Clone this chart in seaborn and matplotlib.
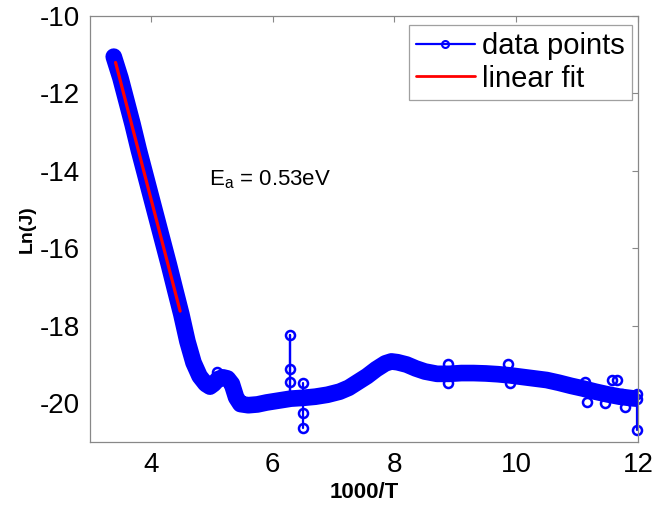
import matplotlib
matplotlib.use("Agg")
import matplotlib.pyplot as plt
from matplotlib.lines import Line2D
import seaborn as sns
import pandas as pd

# ---- data ----
# centre of the dense band of measured points
x_band = [3.39, 3.50, 3.60, 3.70, 3.80, 3.90, 4.00, 4.10, 4.20, 4.30, 4.40, 4.50,
          4.60, 4.70, 4.80, 4.90, 4.97, 5.03, 5.10, 5.18, 5.26, 5.33, 5.40, 5.47,
          5.60, 5.75, 5.90, 6.10, 6.30, 6.50, 6.70, 6.90, 7.10, 7.25, 7.40, 7.55,
          7.70, 7.85, 7.95, 8.05, 8.20, 8.35, 8.50, 8.70, 8.90, 9.10, 9.30, 9.50,
          9.70, 9.90, 10.10, 10.30, 10.50, 10.70, 10.90, 11.10, 11.30, 11.50,
          11.70, 11.90, 11.98]
y_band = [-11.05, -11.60, -12.20, -12.80, -13.45, -14.05, -14.65, -15.25, -15.85,
          -16.45, -17.08, -17.70, -18.40, -18.95, -19.30, -19.50, -19.57, -19.50,
          -19.38, -19.33, -19.36, -19.50, -19.85, -20.02, -20.05, -20.03, -19.98,
          -19.93, -19.88, -19.86, -19.83, -19.78, -19.70, -19.60, -19.45, -19.30,
          -19.12, -18.97, -18.92, -18.94, -19.00, -19.10, -19.18, -19.24, -19.24,
          -19.22, -19.22, -19.23, -19.25, -19.28, -19.32, -19.36, -19.40, -19.47,
          -19.55, -19.62, -19.70, -19.77, -19.83, -19.87, -19.88]

# scattered points that stand out of the band (grouped by the run they belong to)
x_out = [6.28, 6.28, 6.28, 6.28, 6.28,
         6.50, 6.50, 6.50, 6.50,
         11.99, 11.99, 11.99,
         5.09, 8.88, 8.88, 9.87, 9.90, 11.13, 11.16, 11.46, 11.57, 11.65, 11.73, 11.78]
y_out = [-19.88, -19.45, -19.12, -18.23, -19.88,
         -19.47, -19.86, -20.24, -20.63,
         -19.88, -19.75, -20.68,
         -19.19, -18.99, -19.47, -18.99, -19.47, -19.45, -19.97, -19.99, -19.39,
         -19.39, -19.75, -20.10]
run_out = [0, 0, 0, 0, 0,
           1, 1, 1, 1,
           2, 2, 2,
           3, 4, 5, 6, 7, 8, 9, 10, 11, 12, 13, 14]

# linear fit over the high-temperature part
x_fit = [3.42, 4.48]
y_fit = [-11.20, -17.62]

x_ticks = [4, 6, 8, 10, 12]
y_ticks = [-20, -18, -16, -14, -12, -10]

# ---- style ----
sns.set_theme(style="white")
plt.rcParams["font.family"] = ["Liberation Sans", "DejaVu Sans"]
plt.rcParams["axes.unicode_minus"] = False
plt.rcParams["text.color"] = "black"
plt.rcParams["axes.labelcolor"] = "black"
plt.rcParams["mathtext.fontset"] = "custom"
plt.rcParams["mathtext.rm"] = "Liberation Sans"
plt.rcParams["mathtext.it"] = "Liberation Sans:italic"
plt.rcParams["mathtext.bf"] = "Liberation Sans:bold"

fig = plt.figure(figsize=(6.56, 5.08), dpi=100)
ax = fig.add_axes([90 / 656, 66 / 508, 548 / 656, 426 / 508])

blue = "#0000ff"
red = "#ff0000"

df_band = pd.DataFrame({"x": x_band, "y": y_band})
sns.lineplot(data=df_band, x="x", y="y", sort=False, estimator=None, color=blue,
             lw=12, solid_capstyle="round", solid_joinstyle="round",
             legend=False, ax=ax)

df_out = pd.DataFrame({"x": x_out, "y": y_out, "run": run_out})
sns.lineplot(data=df_out, x="x", y="y", units="run", sort=False, estimator=None,
             color=blue, lw=1.6, marker="o", markersize=6.5, markerfacecolor="none",
             markeredgecolor=blue, markeredgewidth=1.8, legend=False, ax=ax,
             clip_on=False)

df_fit = pd.DataFrame({"x": x_fit, "y": y_fit})
sns.lineplot(data=df_fit, x="x", y="y", color=red, lw=2.3, legend=False, ax=ax)

ax.set_xlim(3, 12)
ax.set_ylim(-21, -10)
ax.set_xticks(x_ticks)
ax.set_yticks(y_ticks)
ax.tick_params(direction="in", length=4, width=0.8, color="#888888",
               top=True, right=True, labelsize=20, pad=7, labelcolor="black")
for s in ax.spines.values():
    s.set_color("#888888")
    s.set_linewidth(0.9)

ax.set_xlabel("1000/T", fontsize=16, fontweight="bold", labelpad=3)
ax.set_ylabel("Ln(J)", fontsize=14, fontweight="bold", labelpad=3)

ax.text(4.95, -14.37, r"E$_\mathrm{a}$ = 0.53eV", fontsize=16, va="baseline",
        color="black")

handles = [
    Line2D([], [], color=blue, lw=1.6, marker="o", markersize=5,
           markerfacecolor="none", markeredgewidth=1.5),
    Line2D([], [], color=red, lw=2.0),
]
leg = ax.legend(handles, ["data points", "linear fit"], loc="upper right",
                bbox_to_anchor=(0.989, 0.979), borderaxespad=0, fontsize=21,
                frameon=True, fancybox=False, handlelength=2.0,
                handletextpad=0.25, borderpad=0.25, labelspacing=0.15)
leg.get_frame().set_edgecolor("#888888")
leg.get_frame().set_linewidth(0.9)

fig.savefig("out.png", dpi=100, facecolor="white")
